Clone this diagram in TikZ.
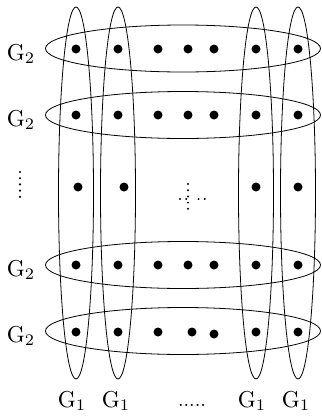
\documentclass[tikz,border=0pt]{standalone}
\usepackage{amsmath, amssymb}
\usepackage{tikz}
\usetikzlibrary{positioning}

\begin{document}
\begin{tikzpicture}[x=1pt, y=-1pt, line width=0.8pt]

    \useasboundingbox (0,0) rectangle (322,416);
    % Các ellipse G_2 (hàng)
    \foreach \y in {48.5,115,265,331}
        \draw (183,\y) ellipse (137.5 and 23.5);
    % Các ellipse G_1 (cột)
    \foreach \x in {76,118,256,298}
        \draw (\x,193) ellipse (17.5 and 186);
    % Các điểm
    \foreach \y in {49,115,265}
        \foreach \x in {76,118,158,188,214,256,298}
            \fill (\x,\y) circle (4.5);
    \foreach \x/\y in {76/332,118/332,158/332,192/332,214/334,256/332,298/332}
        \fill (\x,\y) circle (4.5);
    \foreach \x in {78,124,256,298}
        \fill (\x,187) circle (4.5);
    % Dấu chấm
    \foreach \t in {0,...,4}
        \fill (20,172+6.2*\t) circle (1.2);
    \foreach \t in {0,...,4}
        \fill (188,184+6.2*\t) circle (1.1);
    \foreach \t in {0,1,3,4}
        \fill (180+6.2*\t,199) circle (1.1);
    % Nhãn
    \foreach \y [count=\i] in {54,120,270,336}
        \node[scale=2.3, inner sep=0pt] (gh\i) at (21,\y) {$\mathrm{G}_2$};
    \foreach \x [count=\i] in {72,116,252,296}
        \node[scale=2.3, inner sep=0pt] (gc\i) at (\x,401) {$\mathrm{G}_1$};
    \node[scale=2, inner sep=0pt, anchor=base] (more) at (192,406) {.....};

\end{tikzpicture}
\end{document}
